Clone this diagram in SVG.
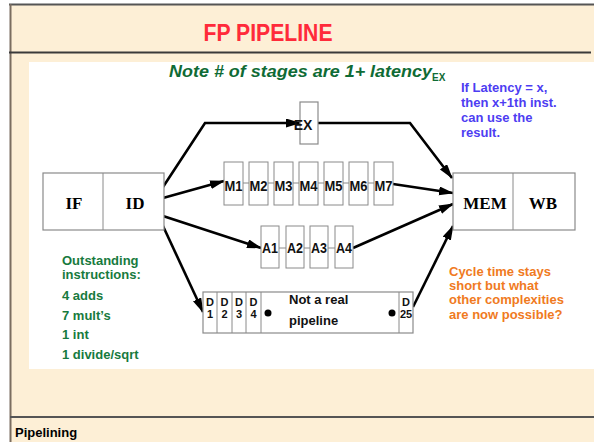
<svg xmlns="http://www.w3.org/2000/svg" width="594" height="442" viewBox="0 0 594 442">
<defs>
<marker id="ah" markerUnits="userSpaceOnUse" markerWidth="16" markerHeight="10" refX="14" refY="4.5" orient="auto">
<path d="M0,0 L15,4.5 L0,9 z" fill="#000"/>
</marker>
<style>
.box{fill:#fff;stroke:#8a8a8a;stroke-width:1.2}
.cell{fill:#fff;stroke:#8a8a8a;stroke-width:1}
.link{stroke:#8a8a8a;stroke-width:1}
.conn{fill:none;stroke:#000;stroke-width:2.6;marker-end:url(#ah)}
.serif{font-family:"Liberation Serif","Times New Roman",serif;font-weight:bold;font-size:17px;fill:#000;text-anchor:middle}
.stage{font-family:"Liberation Sans",Arial,sans-serif;font-size:14px;font-weight:bold;fill:#111;text-anchor:middle}
.dl{font-family:"Liberation Sans",Arial,sans-serif;font-size:11px;font-weight:bold;fill:#111;text-anchor:middle}
.g{font-family:"Liberation Sans",Arial,sans-serif;font-size:13px;font-weight:bold;fill:#177a3e}
.b{font-family:"Liberation Sans",Arial,sans-serif;font-size:13px;font-weight:bold;fill:#4d3df2}
.o{font-family:"Liberation Sans",Arial,sans-serif;font-size:13px;font-weight:bold;fill:#f07a22}
</style>
</defs>
<rect x="0" y="0" width="594" height="442" fill="#fff"/>
<rect x="10" y="4" width="584" height="438" fill="#fdefd6"/>
<rect x="29" y="62" width="565" height="307" fill="#fff"/>
<line x1="9" y1="4.5" x2="594" y2="4.5" stroke="#555" stroke-width="2"/>
<line x1="10.5" y1="4" x2="10.5" y2="442" stroke="#7a6d60" stroke-width="2"/>
<line x1="9" y1="52.5" x2="591" y2="52.5" stroke="#3a3a3a" stroke-width="2"/>
<line x1="10" y1="417" x2="594" y2="417" stroke="#555" stroke-width="2"/>
<text x="268" y="41" text-anchor="middle" font-family="'Liberation Sans',Arial,sans-serif" font-size="23" font-weight="bold" fill="#ff2a3a" textLength="129" lengthAdjust="spacingAndGlyphs">FP PIPELINE</text>
<text x="15" y="437" font-family="'Liberation Sans',Arial,sans-serif" font-size="13" font-weight="bold" fill="#000">Pipelining</text>
<text x="169" y="77" font-family="'Liberation Sans',Arial,sans-serif" font-size="16.5" font-weight="bold" font-style="italic" fill="#0f6b35"><tspan textLength="263" lengthAdjust="spacingAndGlyphs">Note # of stages are 1+ latency</tspan><tspan font-size="10" font-style="normal" dy="4">EX</tspan></text>
<g id="note-latency">
<text class="b" x="461" y="92">If Latency = x,</text>
<text class="b" x="461" y="107">then x+1th inst.</text>
<text class="b" x="461" y="122">can use the</text>
<text class="b" x="461" y="137">result.</text>
</g>
<g id="note-outstanding">
<text class="g" x="62" y="265">Outstanding</text>
<text class="g" x="62" y="279">instructions:</text>
<text class="g" x="62" y="300">4 adds</text>
<text class="g" x="62" y="320">7 mult’s</text>
<text class="g" x="62" y="339">1 int</text>
<text class="g" x="62" y="359">1 divide/sqrt</text>
</g>
<g id="note-cycle">
<text class="o" x="449" y="276">Cycle time stays</text>
<text class="o" x="449" y="290">short but what</text>
<text class="o" x="449" y="304">other complexities</text>
<text class="o" x="449" y="319">are now possible?</text>
</g>
<g id="connectors">
<polyline class="conn" points="163,187 205,123 300,123"/>
<polyline class="conn" points="318,123 410,123 452,178"/>
<line class="conn" x1="163" y1="198" x2="224" y2="181"/>
<line class="conn" x1="393" y1="184" x2="453" y2="193"/>
<line class="conn" x1="163" y1="216" x2="261" y2="248"/>
<line class="conn" x1="353" y1="248" x2="453" y2="204"/>
<line class="conn" x1="163" y1="226" x2="203" y2="312"/>
<line class="conn" x1="413" y1="307" x2="453" y2="226"/>
</g>
<g id="if-id">
<rect class="box" x="43" y="173" width="121" height="57"/>
<line class="link" x1="103" y1="173" x2="103" y2="230"/>
<text class="serif" x="74" y="209">IF</text>
<text class="serif" x="135" y="209">ID</text>
</g>
<g id="mem-wb">
<rect class="box" x="453" y="173" width="122" height="57"/>
<line class="link" x1="513" y1="173" x2="513" y2="230"/>
<text class="serif" x="485" y="209">MEM</text>
<text class="serif" x="543" y="209">WB</text>
</g>
<g id="ex">
<rect class="box" x="300" y="102" width="18" height="42" fill-opacity="0"/>
<text class="stage" x="303" y="130" text-anchor="start" font-size="12" font-weight="normal">EX</text>
</g>
<g id="mult">
<line class="link" x1="243" y1="183" x2="374" y2="183"/>
<rect class="cell" x="224" y="162" width="19" height="43"/>
<rect class="cell" x="249" y="162" width="19" height="43"/>
<rect class="cell" x="274" y="162" width="19" height="43"/>
<rect class="cell" x="299" y="162" width="19" height="43"/>
<rect class="cell" x="324" y="162" width="19" height="43"/>
<rect class="cell" x="349" y="162" width="19" height="43"/>
<rect class="cell" x="374" y="162" width="19" height="43"/>
<text class="stage" x="233.5" y="191" textLength="18" lengthAdjust="spacingAndGlyphs">M1</text>
<text class="stage" x="258.5" y="191" textLength="18" lengthAdjust="spacingAndGlyphs">M2</text>
<text class="stage" x="283.5" y="191" textLength="18" lengthAdjust="spacingAndGlyphs">M3</text>
<text class="stage" x="308.5" y="191" textLength="18" lengthAdjust="spacingAndGlyphs">M4</text>
<text class="stage" x="333.5" y="191" textLength="18" lengthAdjust="spacingAndGlyphs">M5</text>
<text class="stage" x="358.5" y="191" textLength="18" lengthAdjust="spacingAndGlyphs">M6</text>
<text class="stage" x="383.5" y="191" textLength="18" lengthAdjust="spacingAndGlyphs">M7</text>
</g>
<g id="add">
<line class="link" x1="279" y1="248" x2="335" y2="248"/>
<rect class="cell" x="261" y="226" width="18" height="42"/>
<rect class="cell" x="286" y="226" width="18" height="42"/>
<rect class="cell" x="310" y="226" width="18" height="42"/>
<rect class="cell" x="335" y="226" width="18" height="42"/>
<text class="stage" x="270" y="253" font-size="13" textLength="16" lengthAdjust="spacingAndGlyphs">A1</text>
<text class="stage" x="295" y="253" font-size="13" textLength="16" lengthAdjust="spacingAndGlyphs">A2</text>
<text class="stage" x="319" y="253" font-size="13" textLength="16" lengthAdjust="spacingAndGlyphs">A3</text>
<text class="stage" x="344" y="253" font-size="13" textLength="16" lengthAdjust="spacingAndGlyphs">A4</text>
</g>
<g id="div">
<rect class="box" x="203" y="292" width="210" height="41"/>
<line class="link" x1="217" y1="292" x2="217" y2="333"/>
<line class="link" x1="232" y1="292" x2="232" y2="333"/>
<line class="link" x1="246" y1="292" x2="246" y2="333"/>
<line class="link" x1="261" y1="292" x2="261" y2="333"/>
<line class="link" x1="399" y1="292" x2="399" y2="333"/>
<text class="dl" x="210" y="306">D</text><text class="dl" x="210" y="318">1</text>
<text class="dl" x="224.5" y="306">D</text><text class="dl" x="224.5" y="318">2</text>
<text class="dl" x="239" y="306">D</text><text class="dl" x="239" y="318">3</text>
<text class="dl" x="253.5" y="306">D</text><text class="dl" x="253.5" y="318">4</text>
<text class="dl" x="406" y="306">D</text><text class="dl" x="406" y="318">25</text>
<circle cx="268" cy="313" r="3.5" fill="#000"/>
<circle cx="392" cy="313" r="3.5" fill="#000"/>
<text x="289" y="304" font-family="'Liberation Sans',Arial,sans-serif" font-size="13" font-weight="bold" fill="#111">Not a real</text>
<text x="289" y="325" font-family="'Liberation Sans',Arial,sans-serif" font-size="13" font-weight="bold" fill="#111">pipeline</text>
</g>
</svg>
